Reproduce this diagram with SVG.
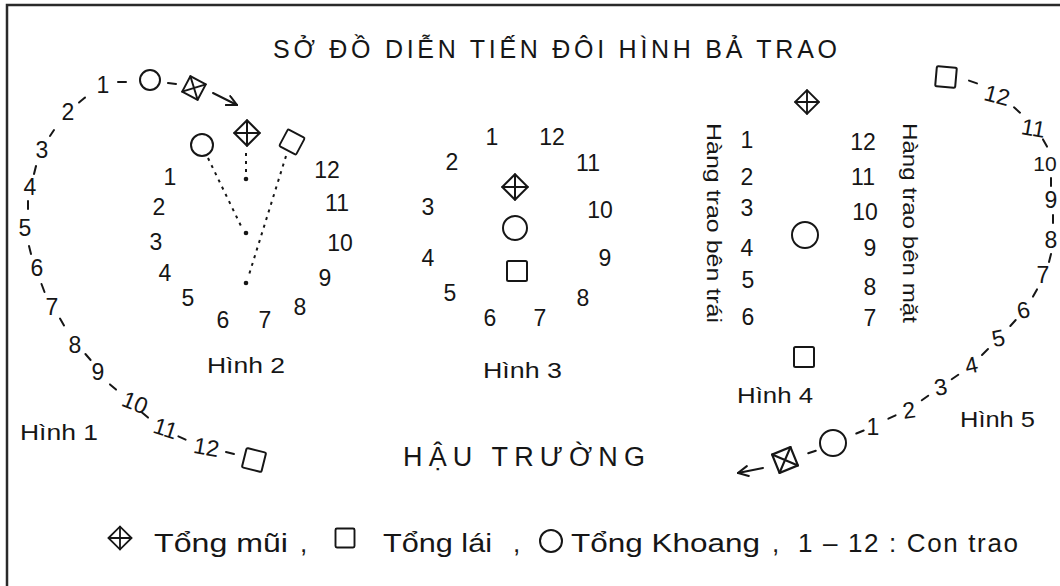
<svg xmlns="http://www.w3.org/2000/svg" xmlns:xlink="http://www.w3.org/1999/xlink" width="1060" height="586" viewBox="0 0 1060 586">
<style>
.t{font-family:"Liberation Sans","DejaVu Sans",sans-serif;fill:#161616}
.n{font-size:23px;text-anchor:middle}
.lbl{font-size:22px}
.s{fill:none;stroke:#161616;stroke-width:2;stroke-linejoin:round;stroke-linecap:round}
.d{stroke:#161616;stroke-width:2;stroke-linecap:round}
.dot{stroke:#161616;stroke-width:2;stroke-dasharray:3 5;fill:none}
.frame{stroke:#2a2a2a;stroke-width:2.5}
</style>
<defs>
<g id="sqx" class="s"><rect x="-9" y="-9" width="18" height="18"/><path d="M-9,-9 L9,9 M9,-9 L-9,9"/></g>
<rect id="sq" class="s" x="-10" y="-10" width="20" height="20" rx="1.5"/>
<marker id="ah" viewBox="0 0 12 12" refX="11" refY="6" markerWidth="12" markerHeight="12" markerUnits="userSpaceOnUse" orient="auto"><path d="M1,1 L11,6 L1,11" fill="none" stroke="#161616" stroke-width="2" stroke-linecap="round"/></marker>
</defs>
<rect width="1060" height="586" fill="#fff"/>
<path class="frame" d="M7,586 L7,5 L1060,5" fill="none"/>

<g id="title"><text class="t" x="273" y="58" font-size="25" textLength="564" lengthAdjust="spacing">SỞ ĐỒ DIỄN TIẾN ĐÔI HÌNH BẢ TRAO</text></g>

<g id="hinh1">
<use xlink:href="#sqx" transform="translate(194,88) rotate(28) scale(0.97)"/>
<circle class="s" cx="150" cy="80" r="10"/>
<use xlink:href="#sq" transform="translate(254,460) rotate(14)"/>
<g class="t n">
<text x="103" y="93">1</text><text x="68" y="120">2</text><text x="42" y="158">3</text><text x="30" y="195">4</text>
<text x="25" y="236">5</text><text x="37" y="276">6</text><text x="52" y="315">7</text><text x="75" y="353">8</text>
<text x="98" y="380">9</text><text transform="translate(132,410) rotate(22)" x="0" y="0">10</text>
<text transform="translate(163,436) rotate(18)">11</text><text transform="translate(205,455) rotate(10)">12</text>
</g>
<g>
<line class="d" x1="118" y1="82" x2="126" y2="82"/><line class="d" x1="168" y1="83" x2="176" y2="84"/>
<line class="d" x1="85" y1="97.5" x2="79" y2="102.5"/><line class="d" x1="54" y1="130" x2="50" y2="136"/>
<line class="d" x1="36" y1="166" x2="34" y2="174"/><line class="d" x1="28" y1="201" x2="28" y2="209"/>
<line class="d" x1="29" y1="246" x2="31" y2="254"/><line class="d" x1="41.5" y1="284" x2="44.5" y2="292"/>
<line class="d" x1="60" y1="318.6" x2="64" y2="325.4"/><line class="d" x1="85.4" y1="354" x2="90.6" y2="360"/>
<line class="d" x1="110" y1="384.4" x2="116" y2="389.6"/><line class="d" x1="142" y1="412.4" x2="148" y2="417.6"/>
<line class="d" x1="178.4" y1="436.4" x2="185.6" y2="439.6"/><line class="d" x1="226" y1="452" x2="234" y2="454"/>
</g>
<text class="t lbl" x="20" y="440" textLength="78" lengthAdjust="spacingAndGlyphs">Hình 1</text>
</g>

<g id="hinh2">
<circle class="s" cx="202" cy="145" r="11"/>
<use xlink:href="#sqx" transform="translate(247,133) rotate(45)"/>
<use xlink:href="#sq" transform="translate(292,142) rotate(28) scale(0.95)"/>
<circle cx="246" cy="179" r="2.3" fill="#161616"/><circle cx="246" cy="233" r="2.3" fill="#161616"/><circle cx="246" cy="283" r="2.3" fill="#161616"/>
<g class="t n">
<text x="170" y="185">1</text><text x="159" y="215">2</text><text x="156" y="250">3</text><text x="165" y="281">4</text>
<text x="188" y="306">5</text><text x="223" y="328">6</text><text x="265" y="328">7</text><text x="300" y="315">8</text>
<text x="325" y="286">9</text><text x="340" y="251">10</text><text x="337" y="211">11</text><text x="327" y="178">12</text>
</g>
<text class="t lbl" x="207" y="373" textLength="78" lengthAdjust="spacingAndGlyphs">Hình 2</text>
</g>

<g id="hinh3">
<use xlink:href="#sqx" transform="translate(515,187) rotate(45)"/>
<circle class="s" cx="515" cy="228" r="12"/>
<use xlink:href="#sq" transform="translate(517,271)"/>
<g class="t n">
<text x="492" y="145">1</text><text x="552" y="145">12</text><text x="452" y="170">2</text><text x="588" y="171">11</text>
<text x="428" y="215">3</text><text x="600" y="218">10</text><text x="428" y="266">4</text><text x="605" y="266">9</text>
<text x="450" y="301">5</text><text x="583" y="306">8</text><text x="490" y="326">6</text><text x="540" y="326">7</text>
</g>
<text class="t lbl" x="483" y="378" textLength="79" lengthAdjust="spacingAndGlyphs">Hình 3</text>
</g>

<g id="hinh4">
<use xlink:href="#sqx" transform="translate(807,102) rotate(45) scale(0.93)"/>
<circle class="s" cx="805" cy="235" r="13"/>
<use xlink:href="#sq" transform="translate(804,357)"/>
<g class="t n">
<text x="747" y="148">1</text><text x="747" y="185">2</text><text x="747" y="216">3</text><text x="747" y="256">4</text>
<text x="748" y="288">5</text><text x="748" y="325">6</text>
<text x="863" y="150">12</text><text x="863" y="185">11</text><text x="865" y="220">10</text><text x="870" y="256">9</text>
<text x="870" y="295">8</text><text x="870" y="326">7</text>
</g>
<text class="t" font-size="21" transform="translate(707,123) rotate(90)" textLength="200" lengthAdjust="spacingAndGlyphs">Hàng trao bên trái</text>
<text class="t" font-size="21" transform="translate(903,123) rotate(90)" textLength="200" lengthAdjust="spacingAndGlyphs">Hàng trao bên mặt</text>
<text class="t lbl" x="737" y="403" textLength="76" lengthAdjust="spacingAndGlyphs">Hình 4</text>
</g>

<g id="hinh5">
<use xlink:href="#sq" transform="translate(946,77) rotate(5)"/>
<circle class="s" cx="833" cy="443" r="13"/>
<use xlink:href="#sqx" transform="translate(785,460) rotate(-22) scale(1.1)"/>
<g class="t n">
<text transform="translate(995,103) rotate(15)">12</text><text transform="translate(1032,136) rotate(10)">11</text>
<text x="1045" y="171" font-size="21">10</text><text x="1051" y="208">9</text><text x="1051" y="248">8</text><text x="1043" y="283">7</text>
<text transform="translate(1025,318) rotate(-12)">6</text><text transform="translate(1000,346) rotate(-12)">5</text>
<text transform="translate(973,373) rotate(-12)">4</text><text transform="translate(942,395) rotate(-10)">3</text>
<text transform="translate(910,418) rotate(-8)">2</text><text x="873" y="435">1</text>
</g>
<g>
<line class="d" x1="969" y1="80.6" x2="977" y2="83.4"/><line class="d" x1="1014" y1="107.3" x2="1020" y2="112.7"/>
<line class="d" x1="1043" y1="139.4" x2="1047" y2="146.6"/><line class="d" x1="1051" y1="178" x2="1051" y2="186"/>
<line class="d" x1="1053" y1="215" x2="1053" y2="223"/><line class="d" x1="1051" y1="254" x2="1049" y2="262"/>
<line class="d" x1="1037" y1="289.4" x2="1033" y2="296.6"/><line class="d" x1="1015.7" y1="320" x2="1010.3" y2="326"/>
<line class="d" x1="988" y1="349" x2="982" y2="355"/><line class="d" x1="958.3" y1="374.7" x2="951.7" y2="379.3"/>
<line class="d" x1="928.2" y1="395.7" x2="921.8" y2="400.3"/><line class="d" x1="895.6" y1="415.3" x2="888.4" y2="418.7"/>
<line class="d" x1="863.7" y1="430.5" x2="856.3" y2="433.5"/><line class="d" x1="815.8" y1="450.7" x2="808.2" y2="453.3"/>
</g>
<text class="t lbl" x="960" y="427" textLength="75" lengthAdjust="spacingAndGlyphs">Hình 5</text>
</g>

<g id="connectors">
<line class="dot" x1="208" y1="158" x2="242" y2="228"/>
<line class="dot" x1="246" y1="153" x2="246" y2="175"/>
<line class="dot" x1="286" y1="156" x2="248" y2="278"/>
<line class="d" x1="213" y1="93" x2="237" y2="105" marker-end="url(#ah)"/>
<line class="d" x1="763" y1="468" x2="738" y2="473" marker-end="url(#ah)"/>
</g>

<g id="hau-truong"><text class="t" x="403" y="466" font-size="27" textLength="242" lengthAdjust="spacing">HẬU TRƯỜNG</text></g>

<g id="legend">
<use xlink:href="#sqx" transform="translate(120,538) rotate(45) scale(0.9)"/>
<use xlink:href="#sq" transform="translate(345,538) scale(0.95)"/>
<circle class="s" cx="551" cy="541" r="11"/>
<g class="t" font-size="26">
<text x="154" y="552" textLength="134" lengthAdjust="spacingAndGlyphs">Tổng mũi</text>
<text x="300" y="552">,</text>
<text x="383" y="552" textLength="109" lengthAdjust="spacingAndGlyphs">Tổng lái</text>
<text x="513" y="552">,</text>
<text x="571" y="552" textLength="189" lengthAdjust="spacingAndGlyphs">Tổng Khoang</text>
<text x="772" y="552">,</text>
<text x="798" y="552" textLength="220" lengthAdjust="spacing">1 – 12 : Con trao</text>
</g>
</g>
</svg>
